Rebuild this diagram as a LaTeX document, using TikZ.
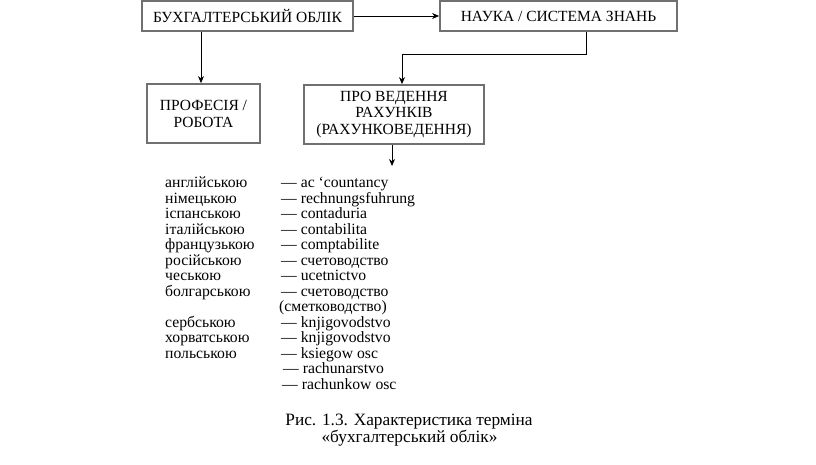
\documentclass[tikz,border=0pt]{standalone}
\usepackage{fontspec}
\setmainfont{Liberation Serif}
\usetikzlibrary{arrows.meta}
\definecolor{boxgray}{RGB}{112,112,112}
\begin{document}
\begin{tikzpicture}[x=1pt,y=-1pt,
  box/.style={draw=boxgray,line width=1.8pt,inner sep=0pt,align=center,font=\fontsize{15.5}{17}\selectfont},
  conn/.style={draw=black,line width=0.8pt,-{Stealth[length=7pt,width=6pt]}},
  item/.style={anchor=base west,inner sep=0pt,font=\fontsize{15.7}{15.5}\selectfont},
  captext/.style={anchor=base,inner sep=0pt,font=\fontsize{17.3}{20}\selectfont}]
\useasboundingbox (0,0) rectangle (816,464);
\node[box,minimum width=211pt,minimum height=30pt] (buh) at (247.5,16) {БУХГАЛТЕРСЬКИЙ ОБЛІК};
\node[box,minimum width=237pt,minimum height=30pt] (nauka) at (558.5,16) {НАУКА / СИСТЕМА ЗНАНЬ};
\node[box,minimum width=113pt,minimum height=59pt] (prof) at (203.5,113.5) {ПРОФЕСІЯ /\\[0pt]РОБОТА};
\node[box,minimum width=180pt,minimum height=59pt] (pro) at (394,114.5) {ПРО ВЕДЕННЯ\\[-0.5pt]РАХУНКІВ\\[-0.5pt](РАХУНКОВЕДЕННЯ)};
\coordinate (c1) at (201,0);
\coordinate (c2) at (586,54);
\coordinate (c3) at (402,54);
\coordinate (c4) at (392,0);
\coordinate (c5) at (392,166);
\draw[conn] (buh.east) -- (nauka.west);
\draw[conn] (buh.south -| c1) -- (prof.north -| c1);
\draw[conn] (nauka.south -| c2) -- (c2) -- (c3) -- (pro.north -| c3);
\draw[conn] (pro.south -| c4) -- (c5);
\foreach \i/\a/\b [count=\n] in {
  0/англійською/— ас ‘countancy,
  1/німецькою/— rechnungsfuhrung,
  2/іспанською/— contaduria,
  3/італійською/— contabilita,
  4/французькою/— comptabilite,
  5/російською/— счетоводство,
  6/чеською/— ucetnictvo,
  7/болгарською/— счетоводство,
  9/сербською/— knjigovodstvo,
  10/хорватською/— knjigovodstvo,
  11/польською/— ksiegow osc}{
  \node[item] (la\n) at (165,187.5+15.5*\i) {\a};
  \node[item] (lb\n) at (281,187.5+15.5*\i) {\b};
}
\node[item] (lb8) at (279,187.5+15.5*8) {(сметководство)};
\node[item] (lb12) at (283,187.5+15.5*12) {— rachunarstvo};
\node[item] (lb13) at (282,187.5+15.5*13) {— rachunkow osc};
\node[captext] (cap1) at (409,425) {Рис. 1.3. Характеристика терміна};
\node[captext] (cap2) at (409.5,442) {«бухгалтерський облік»};
\end{tikzpicture}
\end{document}
